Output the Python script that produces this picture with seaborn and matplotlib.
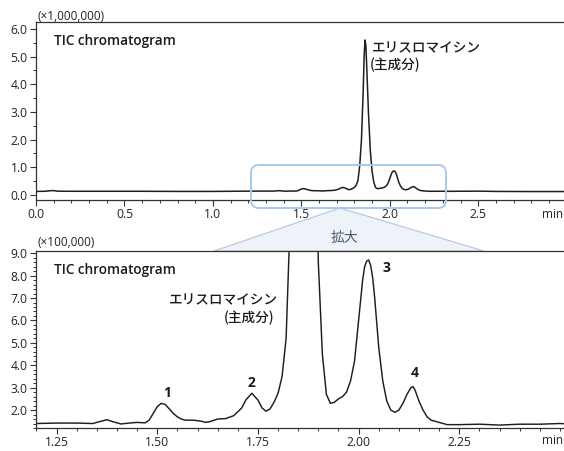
import matplotlib
matplotlib.use("Agg")
import matplotlib.pyplot as plt
import seaborn as sns
import pandas as pd
from matplotlib.patches import FancyBboxPatch, Polygon
from matplotlib.ticker import MultipleLocator, FormatStrFormatter
import matplotlib.transforms as mtransforms

# ---- data (intensity in units of 100,000 counts) ----
time_min = [0.00, 0.05, 0.08, 0.10, 0.12, 0.20, 0.40, 0.60, 0.80, 1.00,
            1.20, 1.25, 1.30, 1.34, 1.36, 1.375, 1.39, 1.41, 1.43, 1.45,
            1.47, 1.48, 1.49, 1.50, 1.51, 1.52, 1.53, 1.54, 1.55, 1.56,
            1.57, 1.59, 1.61, 1.62, 1.63, 1.65, 1.67, 1.69, 1.71, 1.72,
            1.735, 1.75, 1.76, 1.77, 1.78, 1.79, 1.80, 1.81, 1.82, 1.83,
            1.84, 1.85, 1.855, 1.86, 1.865, 1.87, 1.88, 1.89, 1.90, 1.91,
            1.92, 1.93, 1.94, 1.95, 1.96, 1.97, 1.98, 1.99, 2.00, 2.01,
            2.015, 2.02, 2.025, 2.03, 2.035, 2.04, 2.05, 2.06, 2.07, 2.08,
            2.09, 2.10, 2.11, 2.12, 2.13, 2.135, 2.14, 2.15, 2.16, 2.17,
            2.18, 2.20, 2.22, 2.25, 2.30, 2.35, 2.40, 2.45, 2.50, 2.60,
            2.80, 3.00]
intensity_e5 = [1.30, 1.35, 1.55, 1.60, 1.40, 1.35, 1.35, 1.35, 1.30, 1.30,
                1.40, 1.42, 1.42, 1.40, 1.50, 1.57, 1.48, 1.38, 1.42, 1.45,
                1.43, 1.55, 1.85, 2.15, 2.30, 2.25, 2.05, 1.85, 1.70, 1.60,
                1.55, 1.55, 1.50, 1.45, 1.48, 1.60, 1.62, 1.75, 2.10, 2.45,
                2.75, 2.45, 2.10, 1.95, 2.05, 2.35, 2.75, 3.50, 5.20, 10.5,
                20.0, 38.0, 50.0, 56.0, 54.0, 46.0, 29.0, 16.0, 8.6, 4.5,
                2.70, 2.30, 2.35, 2.50, 2.60, 2.80, 3.30, 4.20, 6.00, 7.80,
                8.40, 8.65, 8.70, 8.45, 7.90, 7.00, 4.80, 3.30, 2.40, 2.00,
                1.90, 2.00, 2.30, 2.70, 3.00, 3.05, 2.90, 2.40, 2.00, 1.70,
                1.55, 1.45, 1.35, 1.35, 1.37, 1.33, 1.37, 1.37, 1.40, 1.30,
                1.25, 1.25]

peak_labels = ["1", "2", "3", "4"]
peak_label_times = [1.525, 1.735, 2.07, 2.14]
peak_label_vals = [2.75, 3.2, 8.35, 3.65]

top_yticks = [0.0, 1.0, 2.0, 3.0, 4.0, 5.0, 6.0]
top_xticks = [0.0, 0.5, 1.0, 1.5, 2.0, 2.5]
bot_yticks = [2.0, 3.0, 4.0, 5.0, 6.0, 7.0, 8.0, 9.0]
bot_xticks = [1.25, 1.50, 1.75, 2.00, 2.25]

df = pd.DataFrame({"t": time_min, "i5": intensity_e5})
df["i6"] = df["i5"] * 1e5 / 1e6

sns.set_style("ticks")
plt.rcParams["font.family"] = ["Open Sans", "Noto Sans CJK JP", "DejaVu Sans"]
JP = ["Noto Sans CJK JP", "DejaVu Sans"]

W, H = 564, 451
fig = plt.figure(figsize=(W / 100, H / 100), dpi=100)

def fx(px):
    return px / W

def fy(py):
    return 1 - py / H

ax1 = fig.add_axes([fx(36), fy(200), 1 - fx(36), fy(22) - fy(200)])
ax2 = fig.add_axes([fx(36), fy(428), 1 - fx(36), fy(251) - fy(428)])

line_col = "#1e1e1e"
sns.lineplot(data=df, x="t", y="i6", ax=ax1, color=line_col, linewidth=1.1,
             estimator=None, sort=True)
sns.lineplot(data=df, x="t", y="i5", ax=ax2, color=line_col, linewidth=1.05,
             estimator=None, sort=True)

# ---- top axes ----
ax1.set_xlim(0.0, 2.985)
ax1.set_ylim(-0.18, 6.25)
ax1.set_xticks(top_xticks)
ax1.set_yticks(top_yticks)
ax1.xaxis.set_minor_locator(MultipleLocator(0.1))
ax1.yaxis.set_minor_locator(MultipleLocator(0.5))
ax1.yaxis.set_major_formatter(FormatStrFormatter("%.1f"))
ax1.xaxis.set_major_formatter(FormatStrFormatter("%.1f"))

# ---- bottom axes ----
ax2.set_xlim(1.199, 2.51)
ax2.set_ylim(1.2, 9.1)
ax2.set_xticks(bot_xticks)
ax2.set_yticks(bot_yticks)
ax2.xaxis.set_minor_locator(MultipleLocator(0.05))
ax2.yaxis.set_minor_locator(MultipleLocator(0.2))
ax2.yaxis.set_major_formatter(FormatStrFormatter("%.1f"))
ax2.xaxis.set_major_formatter(FormatStrFormatter("%.2f"))

for ax in (ax1, ax2):
    ax.set_xlabel("")
    ax.set_ylabel("")
    ax.spines["right"].set_visible(False)
    for s in ("top", "left", "bottom"):
        ax.spines[s].set_visible(True)
        ax.spines[s].set_color("#333333")
        ax.spines[s].set_linewidth(0.9)
    ax.tick_params(axis="both", which="major", direction="out", length=4,
                   width=0.8, color="#333333", labelsize=8.7,
                   labelcolor="#222222", pad=2)
    ax.tick_params(axis="both", which="minor", direction="out", length=2.5,
                   width=0.7, color="#333333")
    ax.set_facecolor("none")

# axis unit captions
fig.text(fx(37), fy(16), "(×1,000,000)", fontsize=8.5, color="#222222",
         va="center", ha="left")
fig.text(fx(37), fy(243), "(×100,000)", fontsize=8.5, color="#222222",
         va="center", ha="left")
fig.text(fx(563), fy(214), "min", fontsize=8.5, color="#222222",
         va="center", ha="right")
fig.text(fx(563), fy(441), "min", fontsize=8.5, color="#222222",
         va="center", ha="right")

# panel titles
ax1.text(0.035, 0.895, "TIC chromatogram", transform=ax1.transAxes,
         fontsize=9.8, fontweight="semibold", color="#1a1a1a", va="center")
ax2.text(0.035, 0.895, "TIC chromatogram", transform=ax2.transAxes,
         fontsize=9.8, fontweight="semibold", color="#1a1a1a", va="center")

# compound annotations
ax1.text(1.90, 5.31, "エリスロマイシン", family=JP, fontsize=9.8,
         fontweight="medium", color="#1a1a1a", va="center", ha="left")
ax1.text(1.888, 4.70, "(主成分)", family=JP, fontsize=9.8,
         fontweight="medium", color="#1a1a1a", va="center", ha="left")
ax2.text(1.80, 6.91, "エリスロマイシン", family=JP, fontsize=9.8,
         fontweight="medium", color="#1a1a1a", va="center", ha="right")
ax2.text(1.792, 6.11, "(主成分)", family=JP, fontsize=9.8,
         fontweight="medium", color="#1a1a1a", va="center", ha="right")

for lab, tx, ty in zip(peak_labels, peak_label_times, peak_label_vals):
    ax2.text(tx, ty, lab, fontsize=10, fontweight="bold", color="#1a1a1a",
             ha="center", va="center")

# zoom highlight rectangle on the top chart (pixel coordinates, dpi=100)
rect = FancyBboxPatch((251, H - 208), 195, 43,
                      boxstyle="round,pad=0,rounding_size=8",
                      transform=mtransforms.IdentityTransform(),
                      facecolor="none", edgecolor="#a9c9ea", linewidth=1.4,
                      zorder=5)
fig.patches.append(rect)

# zoom wedge between the panels
wedge = Polygon([(fx(340), fy(208)), (fx(214), fy(251)), (fx(484), fy(251))],
                closed=True, transform=fig.transFigure,
                facecolor="#eef3fa", edgecolor="#bccadd", linewidth=0.9,
                zorder=-1)
fig.patches.append(wedge)
fig.text(fx(344), fy(238), "拡大", family=JP, fontsize=10, color="#4d586a",
         ha="center", va="center")

fig.savefig("out.png", dpi=100)
